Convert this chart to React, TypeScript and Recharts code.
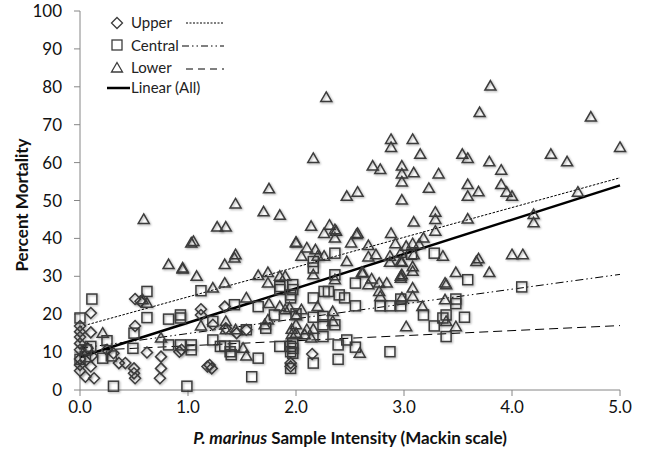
import React from 'react'
import { ScatterChart, Scatter, XAxis, YAxis, ReferenceLine } from 'recharts'

// [intensity, mortality]
const upperPoints: [number, number][] = [
  [0, 16.9], [0, 15.4], [0, 14], [0, 12.3], [0, 10.6], [0, 8.2], [0, 6.6], [0, 5.1], [0.05, 3.5],
  [0.1, 20.3], [0.1, 15.2], [0.1, 6.2], [0.13, 3.1], [0.07, 11], [0.11, 9], [0.25, 10.6], [0.31, 9.7],
  [0.51, 24], [0.56, 23.4], [0.51, 16.9], [0.36, 7.1], [0.42, 7.1], [0.5, 5.7], [0.5, 4.4], [0.51, 3.1],
  [0.62, 9.9], [0.75, 8.8], [0.75, 5.7], [0.74, 3.1], [0.92, 10.1], [0.94, 10.6],
  [1.12, 21.3], [1.12, 19.8], [1.23, 17.2], [1.35, 16.3], [1.34, 22], [1.45, 15], [1.54, 15.9],
  [1.2, 6.6], [1.22, 5.7], [1.18, 6.2], [1.95, 6.2], [2.15, 9.5], [1.95, 7.1],
]

const centralPoints: [number, number][] = [
  [0.11, 24], [0, 19], [0.62, 26], [0.62, 19.1], [0.5, 15], [0.82, 18.7], [0.93, 19.8], [0.93, 19],
  [0, 8.1], [0.05, 8.8], [0.1, 11.5], [0.25, 13], [0.21, 8.4], [0.29, 9], [0.49, 11], [0.82, 11.9],
  [0.93, 11.9], [0.31, 1], [0.99, 1], [0.06, 10.6],
  [1.12, 26.2], [1.43, 22.5], [1.65, 22], [1.85, 26.5], [1.85, 27.3], [1.95, 24.3], [1.95, 25.1],
  [1.8, 19.8], [1.23, 18.1], [1.54, 15.9], [1.72, 16.3], [1.23, 13.2], [1.03, 11.9], [1.03, 10.6],
  [1.3, 11.5], [1.34, 11.6], [1.43, 11.6], [1.39, 10.1], [1.4, 9.3], [1.65, 8.4], [1.59, 3.5],
  [1.85, 11.5], [1.95, 11.5], [1.95, 10.1],
  [2.36, 36.1], [2.16, 33.9], [2.16, 32.2], [2.36, 30.4], [2.55, 28.2], [2.26, 26], [2.3, 26],
  [2.4, 25.1], [2.45, 24.3], [2.16, 24.3], [2.55, 22.2], [1.97, 27.8], [1.97, 26.5], [2.78, 22.2],
  [2.87, 22.2], [2.97, 22.2], [2.0, 20.1], [2.16, 19.2], [2.25, 19.4], [2.25, 17.2], [2.25, 14.1],
  [2.36, 17.2], [1.97, 12.4], [1.97, 11], [1.97, 9.7], [2.39, 11.9], [2.47, 13.2], [2.55, 11.3],
  [2.16, 7.1], [2.39, 8.1], [2.87, 10.1], [1.95, 5.7],
  [3.28, 36.1], [3.07, 35.8], [3.59, 29.1], [2.97, 24], [3.48, 24], [3.48, 22.8], [3.18, 19.8],
  [3.39, 19.8], [3.36, 19], [3.56, 19.2], [3.28, 16.9], [3.39, 14.1], [4.09, 27.2],
]

const lowerPoints: [number, number][] = [
  [2.28, 77.2], [3.8, 80.2], [3.7, 73.2], [4.73, 72], [5.0, 64], [4.36, 62.2], [4.51, 60.2],
  [2.88, 66.1], [3.08, 66.1], [2.88, 64], [3.15, 62.2], [2.16, 61.1], [2.71, 59.1], [2.78, 58.2],
  [2.98, 59.1], [2.98, 57], [3.09, 57.3], [3.32, 57], [2.98, 54.9], [3.23, 53.2], [2.47, 51.1],
  [2.57, 52.2], [2.98, 50.1], [3.29, 46.9], [3.29, 45], [3.09, 44.3], [3.29, 41.9], [2.14, 43.2],
  [2.31, 43.5], [2.26, 41.3], [2.37, 41.9], [2.57, 41.3], [2.88, 41.3],
  [1.75, 53.1], [1.44, 49.1], [1.7, 47], [1.85, 46.1], [0.59, 45], [1.27, 43], [1.35, 43],
  [1.03, 38.8], [1.05, 39.2], [2.0, 38.8], [1.44, 35.7],
  [3.54, 62.2], [3.59, 61.1], [3.79, 60.2], [3.9, 58], [3.59, 54.2], [3.69, 52.3], [3.59, 51.1],
  [3.9, 54.2], [3.95, 52.2], [4.0, 51.1], [4.61, 52.2], [3.59, 45.1], [4.2, 46.3], [4.2, 44.1],
  [3.69, 34.6], [4.0, 35.7], [4.1, 35.7],
  [2.36, 42.3], [2.36, 40.1], [2.56, 41], [2.51, 38.8], [2.92, 38.6], [3.02, 37.9], [3.08, 38.6],
  [3.18, 40.1], [3.14, 38.4], [2.67, 38.1], [2.74, 35.7], [2.67, 35.1], [2.47, 33.9], [2.87, 35.3],
  [2.87, 33.7], [2.98, 33.7], [3.36, 35.3], [3.08, 32.5], [3.08, 31.3], [2.61, 31], [2.98, 30.4],
  [3.48, 31], [3.67, 33.9], [2.7, 29.3], [2.67, 27.8], [2.77, 28.2], [2.84, 28.2], [2.77, 26],
  [3.08, 26.9], [3.38, 28.2], [2.78, 24.7], [2.98, 24.3], [3.08, 24.7], [3.38, 23.8], [3.17, 22],
  [2.34, 20.7], [2.34, 18.1], [3.48, 16.7], [3.02, 16.7], [2.26, 35.3],
  [2.97, 36.1], [3.09, 35.7], [2.97, 33.9], [2.97, 30], [3.79, 31], [3.39, 27.8], [3.39, 18.1],
  [2.0, 39], [2.1, 37.5], [2.05, 35.3], [2.18, 37], [2.2, 35.3], [2.16, 30.4], [2.36, 29.1],
  [2.62, 30.9], [2.97, 29.5], [2.2, 22], [2.05, 21.2], [2.0, 19.6], [2.1, 15.9], [2.16, 16],
  [2.08, 14.6], [2.14, 13.7], [2.0, 17.2], [2.0, 15], [2.59, 9.7],
  [0.95, 31.9], [1.08, 30], [1.34, 33.1], [1.43, 34.8], [1.23, 26.9], [1.34, 28.2], [1.65, 30.2],
  [1.74, 31], [1.74, 28.2], [1.85, 30], [1.9, 30], [1.54, 24.3], [1.75, 22.8], [1.85, 22],
  [1.9, 21.2], [1.35, 18.1], [1.12, 16.9], [1.74, 18.5], [1.35, 15.9], [1.44, 15.9], [1.71, 17.2],
  [1.51, 11], [1.54, 9], [1.96, 16], [1.96, 14.6], [1.94, 21.7],
  [0.82, 33.1], [0.95, 32.2], [0.62, 22.9], [0.21, 15], [0.58, 23.8], [0.75, 13.7],
]

// trendline end points [x, y]
const upperTrend: [number, number][] = [[0, 16.7], [5, 56]]
const centralTrend: [number, number][] = [[0, 11], [5, 30.5]]
const lowerTrend: [number, number][] = [[0.2, 10.6], [5, 17]]
const allTrend: [number, number][] = [[0, 8.7], [5, 54]]

const xTicks = [0, 1, 2, 3, 4, 5]
const yTicks = [0, 10, 20, 30, 40, 50, 60, 70, 80, 90, 100]

const FONT = 'Lato, "Open Sans", sans-serif'
const MARK = '#3c3c3c'
const AXIS = '#868686'
const SHADOW = { filter: 'drop-shadow(1px 1.5px 1px rgba(0,0,0,0.35))' }

const toXY = (pts: [number, number][]) => pts.map(([x, y]) => ({ x, y }))

const Diamond = ({ cx, cy }: any) => (
  <path d={`M${cx},${cy - 5.5}L${cx + 5.5},${cy}L${cx},${cy + 5.5}L${cx - 5.5},${cy}Z`}
    fill="none" stroke={MARK} strokeWidth={1.5} style={SHADOW} />
)
const Square = ({ cx, cy }: any) => (
  <rect x={cx - 5} y={cy - 5} width={10} height={10}
    fill="none" stroke={MARK} strokeWidth={1.5} style={SHADOW} />
)
const Triangle = ({ cx, cy }: any) => (
  <path d={`M${cx},${cy - 5.5}L${cx + 5.5},${cy + 4}L${cx - 5.5},${cy + 4}Z`}
    fill="none" stroke={MARK} strokeWidth={1.5} style={SHADOW} />
)

const seg = (pts: [number, number][]) => pts.map(([x, y]) => ({ x, y }))

const LegendBox = () => (
  <svg width={230} height={100} style={{ position: 'absolute', left: 0, top: 0, pointerEvents: 'none' }}
    fontFamily={FONT} fontSize={15} fill="#222">
    <path d="M117,17.5L122.5,23L117,28.5L111.5,23Z" fill="none" stroke={MARK} strokeWidth={1.3} />
    <text x={131} y={28}>Upper</text>
    <line x1={186} x2={224} y1={23} y2={23} stroke="#000" strokeDasharray="2 1.5" />
    <rect x={112} y={40} width={10} height={10} fill="none" stroke={MARK} strokeWidth={1.3} />
    <text x={131} y={50.5}>Central</text>
    <line x1={182} x2={224} y1={46} y2={46} stroke="#000" strokeDasharray="7 3 1.5 3 1.5 3" />
    <path d="M117,62.5L122.5,72L111.5,72Z" fill="none" stroke={MARK} strokeWidth={1.3} />
    <text x={131} y={73}>Lower</text>
    <line x1={186} x2={224} y1={69} y2={69} stroke="#000" strokeDasharray="7 5" />
    <line x1={107} x2={130} y1={88} y2={88} stroke="#000" strokeWidth={2.5} />
    <text x={131} y={93}>Linear (All)</text>
  </svg>
)

export default function App() {
  return (
    <div style={{ position: 'absolute', left: 0, top: 0, width: 648, height: 460, background: '#fff' }}>
      <ScatterChart width={648} height={460} margin={{ top: 11, right: 28, bottom: 0, left: 0 }}>
        <XAxis type="number" dataKey="x" domain={[0, 5]} ticks={xTicks} interval={0}
          tickFormatter={(v: number) => v.toFixed(1)} height={70}
          stroke={AXIS} tickSize={6} tickMargin={5}
          tick={{ fill: '#111', fontSize: 17, fontFamily: FONT }}
          label={{
            content: () => (
              <text x={350} y={444} textAnchor="middle" fontFamily={FONT} fontSize={17} fontWeight="bold" fill="#111">
                <tspan fontStyle="italic">P. marinus</tspan> Sample Intensity (Mackin scale)
              </text>
            ),
          }} />
        <YAxis type="number" dataKey="y" domain={[0, 100]} ticks={yTicks} interval={0} width={80}
          stroke={AXIS} tickSize={6} tickMargin={12}
          tick={{ fill: '#111', fontSize: 17, fontFamily: FONT }}
          label={{
            content: () => (
              <text x={28} y={205} transform="rotate(-90 28 205)" textAnchor="middle"
                fontFamily={FONT} fontSize={17} fontWeight="bold" fill="#111">Percent Mortality</text>
            ),
          }} />
        <Scatter name="Upper" data={toXY(upperPoints)} shape={Diamond} isAnimationActive={false} />
        <Scatter name="Central" data={toXY(centralPoints)} shape={Square} isAnimationActive={false} />
        <Scatter name="Lower" data={toXY(lowerPoints)} shape={Triangle} isAnimationActive={false} />
        <ReferenceLine segment={seg(upperTrend)} stroke="#000" strokeWidth={1} strokeDasharray="2.5 1.5" ifOverflow="visible" />
        <ReferenceLine segment={seg(centralTrend)} stroke="#000" strokeWidth={1} strokeDasharray="8 3 1.5 3 1.5 3" ifOverflow="visible" />
        <ReferenceLine segment={seg(lowerTrend)} stroke="#000" strokeWidth={1} strokeDasharray="9 5" ifOverflow="visible" />
        <ReferenceLine segment={seg(allTrend)} stroke="#000" strokeWidth={2.5} ifOverflow="visible" />
      </ScatterChart>
      <LegendBox />
    </div>
  )
}
